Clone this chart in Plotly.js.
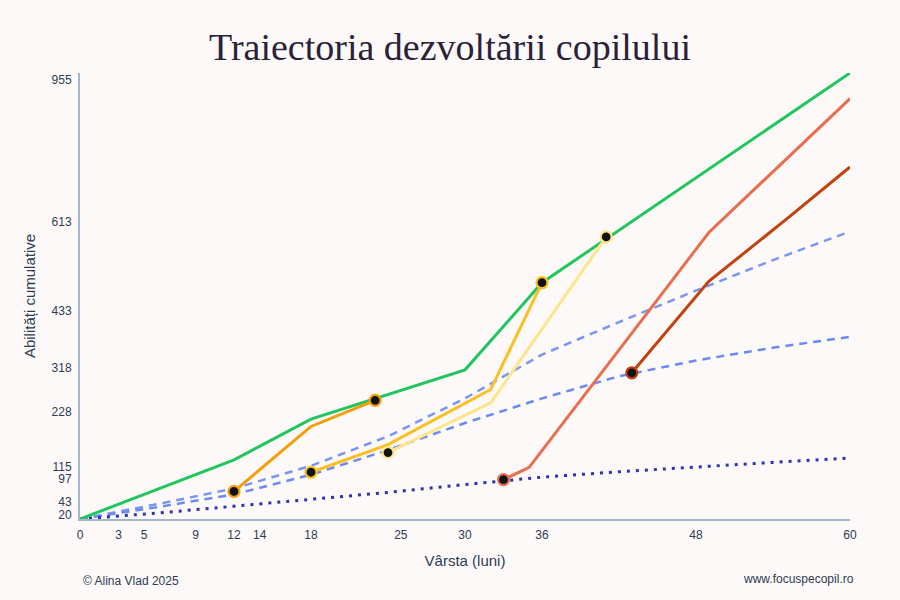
<!DOCTYPE html>
<html>
<head>
<meta charset="utf-8">
<script src="https://cdn.plot.ly/plotly-3.0.1.min.js"></script>
<style>
  html, body { margin: 0; padding: 0; background: #fcf9f8; }
  #chart { width: 900px; height: 600px; }
</style>
</head>
<body>
<div id="chart"></div>
<script>
// ---- Data (months, cumulative abilities) ----
const xTicks = [0, 3, 5, 9, 12, 14, 18, 25, 30, 36, 48, 60];
const yTickLabels = ['20', '43', '97', '115', '228', '318', '433', '613', '955'];
const yTickPos = [18.5, 45.5, 91, 116, 228, 318, 433, 613, 903];

const greenX = [0, 12, 18, 30, 36, 60];
const greenY = [10, 130, 213, 313, 490, 916];

const orangeX = [12, 18, 23];
const orangeY = [66, 198, 251];

const amberX = [18, 24, 32, 36];
const amberY = [105, 161, 273, 490];

const lightX = [24, 32, 41];
const lightY = [145, 246, 583];

const coralX = [33, 35, 49, 60];
const coralY = [90, 115, 592, 864];

const darkX = [43, 49, 55, 60];
const darkY = [307, 493, 618, 725];

const refX = [0, 6, 12, 18, 24, 30, 36, 42, 48, 54, 60];
const upperY = [10, 40, 72, 118, 178, 255, 344, 410, 474, 536, 594];
const lowerY = [10, 34, 60, 100, 150, 205, 255, 300, 332, 358, 380];
const dotY = [10, 22, 36, 50, 64, 80, 95, 106, 116, 125, 134];

// ---- Styles ----
const C = {
  green: '#22c55e', orange: '#f59e0b', amber: '#fbbf24', light: '#fde68a',
  coral: '#e96d4f', dark: '#c2410c', dashA: '#7b95f5', dashB: '#6a8cf2', dot: '#2f33b0'
};
const textColor = '#2d3b55';

function line(x, y, color, width, dash) {
  return { x, y, type: 'scatter', mode: 'lines', hoverinfo: 'skip',
    line: { color, width, dash: dash || 'solid' }, showlegend: false };
}
function marks(x, y, idx, color) {
  return { x: idx.map(i => x[i]), y: idx.map(i => y[i]), type: 'scatter', mode: 'markers',
    hoverinfo: 'skip', showlegend: false,
    marker: { size: 11, color: '#111111', line: { color, width: 2.2 } } };
}

const traces = [
  line(refX, upperY, C.dashA, 2.5, '8px,6px'),
  line(refX, lowerY, C.dashB, 2.5, '8px,6px'),
  line(refX, dotY, C.dot, 3, '3px,6px'),
  line(greenX, greenY, C.green, 3),
  line(lightX, lightY, C.light, 3),
  line(amberX, amberY, C.amber, 3),
  line(orangeX, orangeY, C.orange, 3),
  line(coralX, coralY, C.coral, 3),
  line(darkX, darkY, C.dark, 3),
  marks(orangeX, orangeY, [0, orangeX.length - 1], C.orange),
  marks(amberX, amberY, [0, amberX.length - 1], C.amber),
  marks(lightX, lightY, [0, lightX.length - 1], C.light),
  marks(coralX, coralY, [0], C.coral),
  marks(darkX, darkY, [0], C.dark)
];

const layout = {
  width: 900, height: 600,
  paper_bgcolor: '#fcf9f8', plot_bgcolor: '#fcf9f8',
  margin: { l: 80, r: 50, t: 73, b: 81 },
  font: { family: '"Liberation Sans", Arial, sans-serif', color: textColor, size: 12 },
  title: { text: 'Traiectoria dezvoltării copilului', x: 0.5, xref: 'container', y: 0.922, yanchor: 'middle',
    font: { family: '"Liberation Serif", "Times New Roman", serif', size: 38, color: '#2a2238' } },
  xaxis: {
    range: [0, 60], tickmode: 'array', tickvals: xTicks, ticktext: xTicks.map(String),
    showgrid: false, zeroline: false, showline: true, linecolor: '#a6b6cb', linewidth: 2,
    ticks: '', ticklabelstandoff: 4, tickfont: { size: 12, color: textColor },
    title: { text: 'Vârsta (luni)', font: { size: 15, color: textColor }, standoff: 14 }
  },
  yaxis: {
    range: [10, 916], tickmode: 'array', tickvals: yTickPos, ticktext: yTickLabels,
    showgrid: false, zeroline: false, showline: true, linecolor: '#a6b6cb', linewidth: 2,
    ticks: '', ticklabelstandoff: 4, tickfont: { size: 12, color: textColor },
    title: { text: 'Abilități cumulative', font: { size: 15, color: textColor }, standoff: 12 }
  },
  annotations: [
    { text: '© Alina Vlad 2025', xref: 'paper', yref: 'paper', x: 0.001, y: -0.139,
      xanchor: 'left', yanchor: 'middle', showarrow: false, font: { size: 12, color: textColor } },
    { text: 'www.focuspecopil.ro', xref: 'paper', yref: 'paper', x: 1.008, y: -0.135,
      xanchor: 'right', yanchor: 'middle', showarrow: false, font: { size: 12, color: textColor } }
  ]
};

Plotly.newPlot('chart', traces, layout, { displayModeBar: false, staticPlot: true });
</script>
</body>
</html>
